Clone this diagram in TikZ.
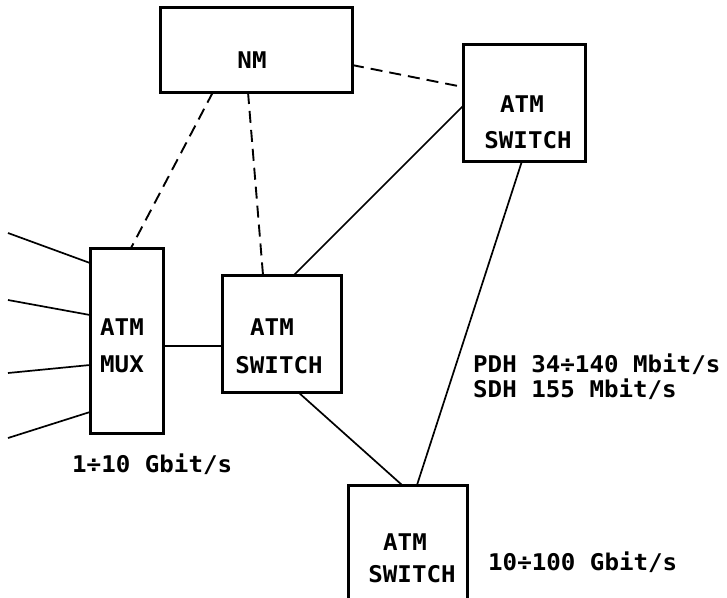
\documentclass[tikz,border=0pt]{standalone}
\usepackage{fontspec}
\newfontfamily\lblfont{DejaVu Sans Mono}[FakeStretch=1.05]
\begin{document}
\begin{tikzpicture}[x=1pt,y=-1pt,
  box/.style={draw, line width=3pt, rectangle, outer sep=0pt, inner sep=0pt},
  lbl/.style={font=\lblfont\bfseries\fontsize{23}{23}\selectfont, inner sep=0pt, anchor=base},
  rate/.style={lbl, anchor=base west},
  link/.style={line width=1.7pt},
  mgmt/.style={line width=1.9pt, dash pattern=on 12pt off 7pt}]
\useasboundingbox (0,0) rectangle (727,597);
\clip (0,0) rectangle (727,597);

% equipment boxes
\node[box, minimum width=192pt, minimum height=85pt]  (nm)  at (256,49.5)  {};
\node[box, minimum width=122pt, minimum height=117pt] (sw1) at (524,102.5) {};
\node[box, minimum width=73pt,  minimum height=185pt] (mux) at (126.5,340.5) {};
\node[box, minimum width=119pt, minimum height=117pt] (sw2) at (281.5,333.5) {};
\node[box, minimum width=119pt, minimum height=140pt] (sw3) at (407.5,555) {};

% box labels
\node[lbl] (nmt)  at (252,68)  {NM};
\node[lbl] (sw1a) at (522,112) {ATM};
\node[lbl] (sw1b) at (528,148) {SWITCH};
\node[lbl] (muxa) at (122,335) {ATM};
\node[lbl] (muxb) at (122,372) {MUX};
\node[lbl] (sw2a) at (272,335) {ATM};
\node[lbl] (sw2b) at (279,373) {SWITCH};
\node[lbl] (sw3a) at (405,550) {ATM};
\node[lbl] (sw3b) at (412,582) {SWITCH};

% rate annotations
\node[rate] (r1) at (72,472)  {1÷10 Gbit/s};
\node[rate] (r2) at (473,372) {PDH 34÷140 Mbit/s};
\node[rate] (r3) at (473,397) {SDH 155 Mbit/s};
\node[rate] (r4) at (488,570) {10÷100 Gbit/s};

% management links (dashed)
\draw[mgmt] ([xshift=53pt]nm.south west) -- ([xshift=41pt]mux.north west);
\draw[mgmt] ([xshift=88pt]nm.south west) -- ([xshift=41pt]sw2.north west);
\draw[mgmt] ([yshift=-58pt]nm.north east) -- ([yshift=-43pt]sw1.north west);

% transmission links
\draw[link] ([yshift=-62pt]sw1.north west) -- ([xshift=72pt]sw2.north west);
\draw[link] ([xshift=59pt]sw1.south west) -- ([xshift=69pt]sw3.north west);
\draw[link] ([xshift=76pt]sw2.south west) -- ([xshift=54pt]sw3.north west);
\draw[link] ([yshift=-5.5pt]mux.east) coordinate (mx) -- (mx -| sw2.west);

% access lines into the multiplexer
\coordinate (in1) at (8,233);
\coordinate (in2) at (8,300);
\coordinate (in3) at (8,373);
\coordinate (in4) at (8,438);
\draw[link] (in1) -- ([yshift=-15pt]mux.north west);
\draw[link] (in2) -- ([yshift=-67pt]mux.north west);
\draw[link] (in3) -- ([yshift=-117pt]mux.north west);
\draw[link] (in4) -- ([yshift=-164pt]mux.north west);
\end{tikzpicture}
\end{document}
